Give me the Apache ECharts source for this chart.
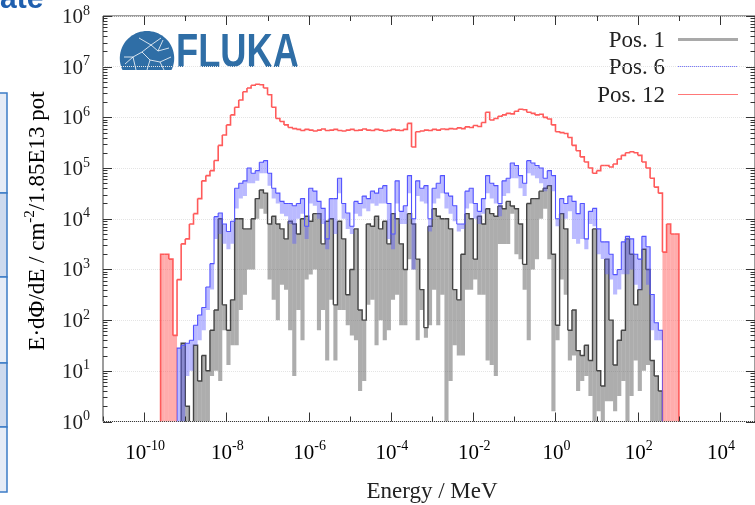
<!DOCTYPE html>
<html>
<head>
<meta charset="utf-8">
<script src="https://cdn.jsdelivr.net/npm/echarts@6/dist/echarts.min.js"></script>
<style>
html, body { margin: 0; padding: 0; background: #fff; }
#chart { width: 755px; height: 505px; }
</style>
</head>
<body>
<div id="chart"></div>
<script>
// Energy binning: logarithmic bins, 10 per decade, first bin edge at 10^-9.6 MeV
const BIN_START_EXP = -9.6;
const BINS_PER_DECADE = 10;
const AXIS_FLOOR = 1;          // lower end of the flux axis (10^0)
const X_MIN = 1e-11;
const X_MAX = Math.pow(10, 4.85);
const Y_MIN = 1;
const Y_MAX = 1e8;

// E dPhi/dE per energy bin, Pos. 12 (null = empty bin)
const pos12 = [
  2.0e3, 2.0e3, 1.6e3, 50, 630, 3.2e3, 4.0e3, 7.9e3, 1.26e4, 2.5e4,
  5.6e4, 7.1e4, 8.9e4, 1.41e5, 2.8e5, 4.5e5, 7.1e5, 1.12e6, 1.58e6, 2.2e6,
  3.2e6, 3.8e6, 4.3e6, 4.5e6, 4.4e6, 3.8e6, 2.8e6, 1.58e6, 9.5e5, 8.3e5,
  7.1e5, 6.3e5, 6.0e5, 5.8e5, 5.5e5, 5.8e5, 5.6e5, 5.4e5, 5.6e5, 5.9e5,
  5.5e5, 5.6e5, 5.8e5, 5.5e5, 5.4e5, 5.6e5, 5.8e5, 5.5e5, 5.6e5, 5.9e5,
  5.6e5, 5.5e5, 5.8e5, 5.6e5, 5.4e5, 5.5e5, 5.8e5, 5.6e5, 5.5e5, 5.8e5,
  7.6e5, 2.6e5, 5.2e5, 5.4e5, 5.6e5, 5.5e5, 5.8e5, 5.6e5, 5.9e5, 5.8e5,
  6.0e5, 5.9e5, 6.2e5, 6.0e5, 6.5e5, 6.3e5, 6.9e5, 6.6e5, 7.9e5, 1.26e6,
  8.9e5, 9.5e5, 1.05e6, 1.12e6, 1.2e6, 1.17e6, 1.32e6, 1.45e6, 1.41e6, 1.26e6,
  1.2e6, 1.12e6, 1.15e6, 1.0e6, 9.3e5, 7.1e5, 5.2e5, 5.0e5, 4.8e5, 4.0e5,
  2.8e5, 2.2e5, 1.66e5, 1.32e5, 1.0e5, 7.9e4, 8.9e4, 1.12e5, 1.12e5, 1.05e5,
  1.2e5, 1.51e5, 1.78e5, 2.0e5, 2.1e5, 2.0e5, 1.78e5, 1.32e5, 1.0e5, 6.3e4,
  4.2e4, 3.2e4, 2.2e3, 7.9e3, 5.0e3, 5.0e3
];
// Pos. 12 bins whose uncertainty band reaches down to the axis
const pos12FloorBins = [0, 1, 2, 3, 122, 123, 124, 125];

// Pos. 6: value and lower edge of the uncertainty band
const pos6 = [
  null, null, null, null, 28, 32, 35, 40, 79, 126,
  178, 450, 1300, 1.1e4, 1.3e4, 7900, 5600, 8900, 4.0e4, 5.0e4,
  5.6e4, 1.0e5, 7.9e4, 8.9e4, 1.3e5, 1.4e5, 7.9e4, 4.0e4, 3.2e4, 2.2e4,
  2.0e4, 2.0e4, 1.8e4, 2.0e4, 2.5e4, 7100, 4.0e4, 3.5e4, 2.2e4, 1.6e4,
  4000, 2.5e4, 2.5e4, 6.3e4, 2.0e4, 1.3e4, 7100, 2.2e4, 2.0e4, 2.8e4,
  2.5e4, 3.5e4, 3.2e4, 4.0e4, 4.5e4, 2.0e4, 5000, 5.6e4, 1.4e4, 1.8e4,
  7.1e4, 1.0e4, 5.6e4, 4.0e4, 4.5e4, 1.0e4, 4.0e4, 5.0e4, 7.1e4, 3.2e4,
  2.8e4, 1.8e4, 7900, 7900, 3.5e4, 4.0e4, 2.0e4, 1.4e4, 2.5e4, 7.1e4,
  5.0e4, 4.5e4, 2.0e4, 5.6e4, 6.3e4, 1.26e5, 1.12e5, 7.1e4, 5.0e4, 1.4e5,
  1.26e5, 1.12e5, 1.0e5, 6.3e4, 8.9e4, 7.1e4, 1.0e4, 2.5e4, 2.0e4, 2.8e4,
  2.2e4, 1.26e4, 2.0e4, 4000, 1.4e4, 1.6e4, 6300, 3500, 3500, 2000,
  790, 1000, 3500, 4500, 4000, 2000, 1600, 4500, 2800, 320,
  89, 63, null, null, null, null
];
const pos6Lo = [
  null, null, null, null, 1, 1, 7.9, 10, 32, 40,
  63, 158, 400, 4000, 5000, 3200, 2500, 3200, 1.6e4, 2.5e4,
  2.8e4, 5.0e4, 5.0e4, 5.6e4, 7.9e4, 7.9e4, 4.5e4, 2.5e4, 2.0e4, 1.26e4,
  1.12e4, 7900, 3200, 1.0e4, 1.26e4, 4000, 2.0e4, 1.8e4, 1.0e4, 7900,
  2500, 1.0e4, 5000, 3.2e4, 1.0e4, 6300, 5000, 1.26e4, 1.12e4, 1.6e4,
  1.4e4, 2.0e4, 1.8e4, 2.0e4, 2.0e4, 4000, 2500, 2.0e4, 7900, 7900,
  3.2e4, 1000, 2.8e4, 2.2e4, 2.0e4, 5600, 2.0e4, 2.5e4, 3.2e4, 1.6e4,
  1.26e4, 8900, 5600, 6300, 1.6e4, 2.0e4, 1.0e4, 7900, 1.26e4, 3.2e4,
  2.5e4, 2.0e4, 1.12e4, 2.8e4, 3.2e4, 6.3e4, 6.3e4, 4.0e4, 2.8e4, 7.9e4,
  7.1e4, 6.3e4, 5.0e4, 3.5e4, 4.5e4, 3.5e4, 7100, 1.26e4, 1.0e4, 1.4e4,
  4000, 3200, 4000, 2500, 7900, 7100, 2000, 1600, 800, 630,
  320, 400, 800, 800, 1000, 500, 400, 2500, 500, 63,
  40, 40, null, null, null, null
];

// Pos. 1: value and lower edge of the uncertainty band
const pos1 = [
  null, null, null, null, null, 35, 2, null, 32, 6.3,
  20, 10, 63, 158, 1.0e4, 200, 63, 251, 1.0e4, 1.0e4,
  6300, 6300, 1.0e4, 2.5e4, 3.7e4, 3.2e4, 7900, 1.12e4, 7900, 6300,
  4000, 8900, 7900, 5000, 1.0e4, 1.12e4, 8900, 1.26e4, 1.26e4, 3200,
  8900, 1.0e4, 200, 8900, 4000, 316, 1000, 6300, 158, 100,
  7900, 7100, 1.12e4, 6300, 8900, 3200, 1.26e4, 1.0e4, 3200, 1000,
  1.26e4, 7900, 1600, 400, 71, 7100, 1.58e4, 1.12e4, 1.0e4, 1.0e4,
  6300, 400, 251, 2000, 1.26e4, 1.0e4, 1600, 1.12e4, 7900, 1.58e4,
  1.26e4, 1.12e4, 1.78e4, 1.58e4, 2.2e4, 1.78e4, 1.58e4, 7900, 1260, 2.0e4,
  2.5e4, 2.5e4, 3.5e4, 4.0e4, 4.5e4, 2000, 79, 1.26e4, 6300, 63,
  158, 25, 20, 32, 16, 6300, 10, 5, 1600, 100,
  13, 40, 63, 4000, 2000, 200, 400, 2500, 1000, 16,
  7.9, 4, null, null, null, null
];
const pos1Lo = [
  null, null, null, null, null, 1, 1, null, 1, 1,
  1, 1, 7.9, 10, 6.3, 63, 13, 32, 32, 158,
  316, 1000, 1000, 1.0e4, 1.58e4, 1.26e4, 631, 251, 100, 501,
  398, 63, 7.9, 158, 40, 631, 794, 1000, 63, 158,
  16, 251, 16, 158, 158, 79, 50, 40, 4, 6.3,
  200, 251, 32, 100, 40, 63, 251, 316, 79, 79,
  1580, 1000, 40, 158, 45, 79, 398, 79, 316, 1,
  6.3, 32, 20, 20, 398, 398, 631, 316, 316, 16,
  13, 7.9, 3160, 3160, 3160, 1.26e4, 2000, 1580, 398, 40,
  1000, 1580, 1.0e4, 1.58e4, 1580, 1.6, 40, 631, 316, 16,
  20, 4, 6.3, 7.9, 3.2, 1, 1.6, 1, 2.5, 2.5,
  1.6, 3.2, 6.3, 1, 3.2, 16, 4, 10, 13, 1,
  1, 1, null, null, null, null
];

const legendNames = ['Pos. 1', 'Pos. 6', 'Pos. 12'];
const xDecades = [-11, -10, -9, -8, -7, -6, -5, -4, -3, -2, -1, 0, 1, 2, 3, 4];
const xLabelExps = [-10, -8, -6, -4, -2, 0, 2, 4];
const yDecades = [0, 1, 2, 3, 4, 5, 6, 7, 8];
const yMinorSteps = [2, 3, 4, 5, 6, 7, 8, 9];

const SERIF = '"Liberation Serif", "DejaVu Serif", serif';
const GRAY_LINE = '#444444', GRAY_BAND = 'rgba(80,80,80,0.47)';
const BLUE_LINE = '#5252ff', BLUE_BAND = 'rgba(90,90,255,0.42)';
const RED_LINE = '#ff5a5a', RED_BAND = 'rgba(255,90,90,0.5)';

function binEdge(i) { return Math.pow(10, BIN_START_EXP + i / BINS_PER_DECADE); }

function binItems(vals) {
  return vals.map((v, i) => [binEdge(i), v == null ? AXIS_FLOOR : v, i]);
}

// uncertainty band: one rectangle per bin, from its lower edge up to the value
function bandSeries(vals, lowerOf, color) {
  return {
    type: 'custom', coordinateSystem: 'cartesian2d', clip: true, silent: true,
    data: binItems(vals), encode: { x: 0, y: 1 },
    renderItem(params, api) {
      const i = api.value(2);
      const v = vals[i], lo = lowerOf(i);
      if (v == null || lo == null) return null;
      const a = api.coord([binEdge(i), v]);
      const b = api.coord([binEdge(i + 1), lo]);
      return { type: 'rect', shape: { x: a[0], y: a[1], width: b[0] - a[0], height: b[1] - a[1] },
               style: { fill: color } };
    }
  };
}

// histogram outline drawn as steps
function stepSeries(vals, color, width) {
  return {
    type: 'custom', coordinateSystem: 'cartesian2d', clip: true, silent: true,
    data: binItems(vals), encode: { x: 0, y: 1 },
    renderItem(params, api) {
      const i = api.value(2);
      const v = vals[i];
      if (v == null) return null;
      const prev = i > 0 ? vals[i - 1] : null;
      const next = i < vals.length - 1 ? vals[i + 1] : null;
      const pts = [];
      if (prev == null) pts.push(api.coord([binEdge(i), AXIS_FLOOR]));
      pts.push(api.coord([binEdge(i), v]));
      pts.push(api.coord([binEdge(i + 1), v]));
      pts.push(api.coord([binEdge(i + 1), next == null ? AXIS_FLOOR : next]));
      return { type: 'polyline', shape: { points: pts },
               style: { stroke: color, lineWidth: width, fill: null, lineJoin: 'miter' } };
    }
  };
}

const labelRich = {
  b: { fontFamily: SERIF, fontSize: 21, color: '#222', lineHeight: 24, verticalAlign: 'bottom' },
  s: { fontFamily: SERIF, fontSize: 14, color: '#222', lineHeight: 14, verticalAlign: 'top' }
};

// inward tick marks on all four sides of the frame, plus the energy tick labels
const tickSeries = {
  type: 'custom', coordinateSystem: 'cartesian2d', clip: false, silent: true,
  data: [[1e-5, 10]], encode: { x: 0, y: 1 },
  renderItem(params, api) {
    const cs = params.coordSys;
    const top = cs.y, bottom = cs.y + cs.height, left = cs.x, right = cs.x + cs.width;
    const children = [];
    const seg = (x1, y1, x2, y2) => children.push({
      type: 'line', shape: { x1, y1, x2, y2 }, style: { stroke: '#333', lineWidth: 1 }
    });
    xDecades.forEach(e => {
      const x = Math.round(api.coord([Math.pow(10, e), 10])[0]) + 0.5;
      const len = e % 2 === 0 ? 9 : 5;
      seg(x, bottom, x, bottom - len);
      seg(x, top, x, top + len);
    });
    xLabelExps.forEach(e => {
      const x = api.coord([Math.pow(10, e), 10])[0];
      children.push({ type: 'text', x: x + 1, y: bottom + 30,
        style: { text: '{b|10}{s|' + e + '}', rich: labelRich, textAlign: 'center', textVerticalAlign: 'middle' } });
    });
    yDecades.forEach(e => {
      const y = Math.round(api.coord([1, Math.pow(10, e)])[1]) + 0.5;
      seg(left, y, left + 9, y);
      seg(right, y, right - 9, y);
      if (e < 8) {
        yMinorSteps.forEach(m => {
          const ym = Math.round(api.coord([1, m * Math.pow(10, e)])[1]) + 0.5;
          seg(left, ym, left + 4.5, ym);
          seg(right, ym, right - 4.5, ym);
        });
      }
    });
    return { type: 'group', children };
  }
};

function powerLabel(value) {
  const lg = Math.log10(value);
  const e = Math.round(lg);
  if (Math.abs(lg - e) > 0.01) return '';
  return '{b|10}{s|' + e + '}';
}

const chart = echarts.init(document.getElementById('chart'));

// FLUKA logo: dome outline (circle cut by a flat base) with white particle tracks
const DOME = { cx: 147, cy: 58.2, r: 27.2, base: 70 };
const domeOutline = [];
for (let k = 0; k <= 48; k++) {
  const t = (-25.7 + k * (231.4 / 48)) * Math.PI / 180;
  domeOutline.push([DOME.cx + DOME.r * Math.cos(t), DOME.cy - DOME.r * Math.sin(t)]);
}
const domeTracks = [
  [[125, 64], [133, 57], [142, 52], [151, 45], [161, 38]],
  [[124, 57], [133, 57]],
  [[133, 57], [136, 70]],
  [[142, 52], [150, 60], [160, 62], [171, 57]],
  [[151, 45], [158, 51], [169, 48]],
  [[139, 38], [151, 45]],
  [[150, 60], [147, 70]],
  [[160, 62], [164, 70]],
  [[158, 51], [163, 40]]
];

const graphics = [
  // cut-off slide heading and side table
  { type: 'text', x: 0, y: 15, silent: true,
    style: { text: 'ate', font: 'bold 30px "Liberation Sans", sans-serif', fill: '#1f5fae',
             textAlign: 'left', textVerticalAlign: 'bottom' } },
  { type: 'rect', shape: { x: -2, y: 93, width: 9, height: 100 }, style: { fill: '#e6ecf6', stroke: '#3d7cc6', lineWidth: 1.5 } },
  { type: 'rect', shape: { x: -2, y: 193, width: 9, height: 84 }, style: { fill: '#cddaee', stroke: '#3d7cc6', lineWidth: 1.5 } },
  { type: 'rect', shape: { x: -2, y: 277, width: 9, height: 86 }, style: { fill: '#e6ecf6', stroke: '#3d7cc6', lineWidth: 1.5 } },
  { type: 'rect', shape: { x: -2, y: 363, width: 9, height: 64 }, style: { fill: '#cddaee', stroke: '#3d7cc6', lineWidth: 1.5 } },
  { type: 'rect', shape: { x: -2, y: 427, width: 9, height: 65 }, style: { fill: '#e6ecf6', stroke: '#3d7cc6', lineWidth: 1.5 } },

  // logo
  { type: 'polygon', silent: true, shape: { points: domeOutline }, style: { fill: '#2f6ea6' } },
  ...domeTracks.map(pts => ({ type: 'polyline', silent: true, shape: { points: pts },
    style: { stroke: '#ffffff', lineWidth: 0.8, fill: null } })),
  { type: 'text', x: 176, y: 53, scaleX: 0.74, silent: true,
    style: { text: 'FLUKA', font: 'bold 49px "Liberation Sans", sans-serif', fill: '#2f6ea6',
             textAlign: 'left', textVerticalAlign: 'middle' } },

  // axis titles
  { type: 'text', x: 432, y: 492, silent: true,
    style: { text: 'Energy / MeV', font: '23px ' + SERIF, fill: '#222',
             textAlign: 'center', textVerticalAlign: 'middle' } },
  { type: 'text', x: 36, y: 221, rotation: Math.PI / 2, silent: true,
    style: { text: '{a|E·dΦ/dE / cm}{s|-2}{a|/1.85E13 pot}', textAlign: 'center', textVerticalAlign: 'middle',
             rich: { a: { fontFamily: SERIF, fontSize: 23, color: '#222', lineHeight: 26, verticalAlign: 'bottom' },
                     s: { fontFamily: SERIF, fontSize: 15, color: '#222', lineHeight: 15, verticalAlign: 'top' } } } },

  // key
  ...legendNames.map((name, k) => ({ type: 'text', x: 665, y: [41, 68, 96][k], silent: true,
    style: { text: name, font: '23px ' + SERIF, fill: '#222', textAlign: 'right', textVerticalAlign: 'middle' } })),
  { type: 'line', shape: { x1: 678, y1: 39.5, x2: 738, y2: 39.5 }, style: { stroke: '#a9a9a9', lineWidth: 3 } },
  { type: 'line', shape: { x1: 678, y1: 66.5, x2: 738, y2: 66.5 }, style: { stroke: '#7878ff', lineWidth: 1.2 } },
  { type: 'line', shape: { x1: 678, y1: 94.5, x2: 738, y2: 94.5 }, style: { stroke: '#ff7878', lineWidth: 1.2 } }
];

const floorSet = new Set(pos12FloorBins);

chart.setOption({
  animation: false,
  backgroundColor: '#ffffff',
  grid: { left: 103, right: -3, top: 16, bottom: 83.5, show: true, borderColor: '#3a3a3a', borderWidth: 1 },
  xAxis: {
    type: 'log', logBase: 10, min: X_MIN, max: X_MAX, interval: 1,
    axisLine: { show: false }, axisTick: { show: false }, splitLine: { show: false },
    axisLabel: { show: false }
  },
  yAxis: {
    type: 'log', logBase: 10, min: Y_MIN, max: Y_MAX, interval: 1,
    axisLine: { show: false }, axisTick: { show: false },
    splitLine: { show: true, lineStyle: { color: '#e4e4e4', type: 'dotted', width: 1 } },
    axisLabel: { margin: 13, formatter: powerLabel, rich: labelRich }
  },
  series: [
    bandSeries(pos1, i => pos1Lo[i], GRAY_BAND),
    stepSeries(pos1, GRAY_LINE, 1.4),
    bandSeries(pos6, i => pos6Lo[i], BLUE_BAND),
    stepSeries(pos6, BLUE_LINE, 1.1),
    bandSeries(pos12, i => (floorSet.has(i) ? AXIS_FLOOR : null), RED_BAND),
    stepSeries(pos12, RED_LINE, 1.6),
    tickSeries
  ],
  graphic: graphics
});
</script>
</body>
</html>
